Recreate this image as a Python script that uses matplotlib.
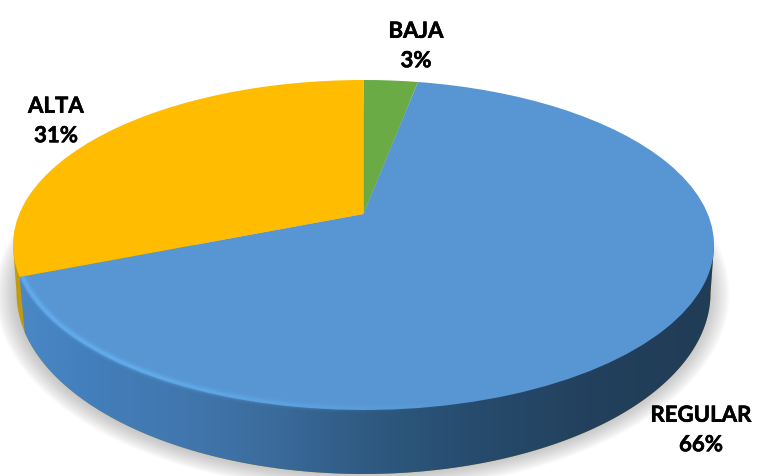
import numpy as np
import matplotlib
matplotlib.use("Agg")
import matplotlib.pyplot as plt
import matplotlib.patheffects as pe
from matplotlib.collections import LineCollection
from matplotlib.colors import LinearSegmentedColormap, to_rgb
from matplotlib.patches import Ellipse, Polygon
from matplotlib.transforms import Transform

# Andmed
categories = ["BAJA", "REGULAR", "ALTA"]
values = [3, 66, 31]
colors = ["#6BAB45", "#5796D3", "#FFBC00"]

plt.rcParams["font.family"] = ["Lato", "DejaVu Sans"]

# Ellipse geometry in image pixels
CX, CY, RX, RY = 363.5, 246.0, 350.5, 165.0
APEX_SHIFT = 31.0  # pie centre sits above the ellipse centre (perspective)
BX, BY, BRX, BRY = 363.5, 294.0, 347.0, 181.0  # lower edge of the disc


class DiskWarp(Transform):
    # unit disc -> tilted ellipse in pixels
    input_dims = 2
    output_dims = 2
    is_separable = False
    has_inverse = False

    def transform_non_affine(self, values):
        values = np.asarray(values, dtype=float)
        k = APEX_SHIFT / RY
        w = 1 + k * values[:, 1]
        a = RX * np.sqrt(1 - k ** 2)
        x = CX + a * values[:, 0] / w
        y = CY - (RY * values[:, 1] + APEX_SHIFT) / w
        return np.column_stack([x, y])


fig = plt.figure(figsize=(7.84, 4.77), dpi=100)
ax = fig.add_axes([0, 0, 1, 1])

wedges, _ = ax.pie(values, colors=colors, startangle=90, counterclock=False)
warp = DiskWarp() + ax.transData
for w in wedges:
    w.set_transform(warp)
    w.set_linewidth(0)
    w.set_zorder(5)

# Soft shadow under the disc, stacked ellipses
for grow in np.linspace(20, 0, 14):
    ax.add_patch(Ellipse((BX - 1, BY + 1), 2 * (BRX + grow), 2 * (BRY + grow * 0.8),
                         fc="#808080", ec="none", alpha=0.035, zorder=1))

# Side wall
cut = np.deg2rad(90 - 3.6 * (values[0] + values[1]))
px, py = DiskWarp().transform(np.array([[np.cos(cut), np.sin(cut)]]))[0]
t_cut = np.arccos((px + 5 - BX) / BRX)
arc = np.linspace(t_cut, 0, 200)
low_x = BX + BRX * np.cos(arc)
low_y = BY + BRY * np.sin(arc)

full = np.linspace(np.pi, 0, 200)
wall_all = np.vstack([
    [[CX - RX, CY]],
    np.column_stack([BX + BRX * np.cos(full), BY + BRY * np.sin(full)]),
    [[CX + RX, CY]],
])
ax.add_patch(Polygon(wall_all, closed=True, fc="#C29A10", ec="none", zorder=2))

wall_blue = np.vstack([
    [[px, py]],
    np.column_stack([low_x, low_y]),
    [[CX + RX, CY]],
])
clip = Polygon(wall_blue, closed=True, fc="none", ec="none", transform=ax.transData)
ax.add_patch(clip)
wall_cmap = LinearSegmentedColormap.from_list("wall", [
    (0.00, "#4A88C6"), (0.10, "#437FBC"), (0.25, "#4176AD"), (0.38, "#3A6A9A"),
    (0.50, "#2F5A82"), (0.65, "#274C6E"), (0.85, "#223F5B"), (1.00, "#213C57"),
])
grad = np.linspace(0, 1, 400).reshape(1, -1)
img = ax.imshow(grad, cmap=wall_cmap, extent=(15, 715, 477, 240), aspect="auto", zorder=3)
img.set_clip_path(clip)

# Light bevel along the lower left rim
theta = np.linspace(cut, np.deg2rad(-75), 160)
pts = np.column_stack([0.992 * np.cos(theta), 0.992 * np.sin(theta)])
segs = np.stack([pts[:-1], pts[1:]], axis=1)
fade = np.clip((theta[-1] - theta[:-1]) / np.deg2rad(50), 0, 1)
for lw, strength in [(7.0, 0.10), (4.5, 0.20), (2.2, 0.40)]:
    line_colors = np.zeros((len(segs), 4))
    line_colors[:, :3] = to_rgb("#6CBBFC")
    line_colors[:, 3] = fade * strength
    lc = LineCollection(segs, colors=line_colors, linewidths=lw, capstyle="butt", zorder=6)
    lc.set_transform(warp)
    ax.add_collection(lc, autolim=False)

ax.set_aspect("auto")
ax.set_xlim(0, 784)
ax.set_ylim(477, 0)
ax.axis("off")

# Sildid
label_pos = [(416, 47), (701, 431), (56, 122)]
for name, val, (lx, ly) in zip(categories, values, label_pos):
    ax.text(lx, ly, f"{name}\n{val}%", ha="center", va="center", fontsize=16,
            fontweight="bold", color="black", linespacing=1.5, zorder=10,
            path_effects=[pe.withStroke(linewidth=0.4, foreground="black")])

plt.savefig("out.png", dpi=100)
